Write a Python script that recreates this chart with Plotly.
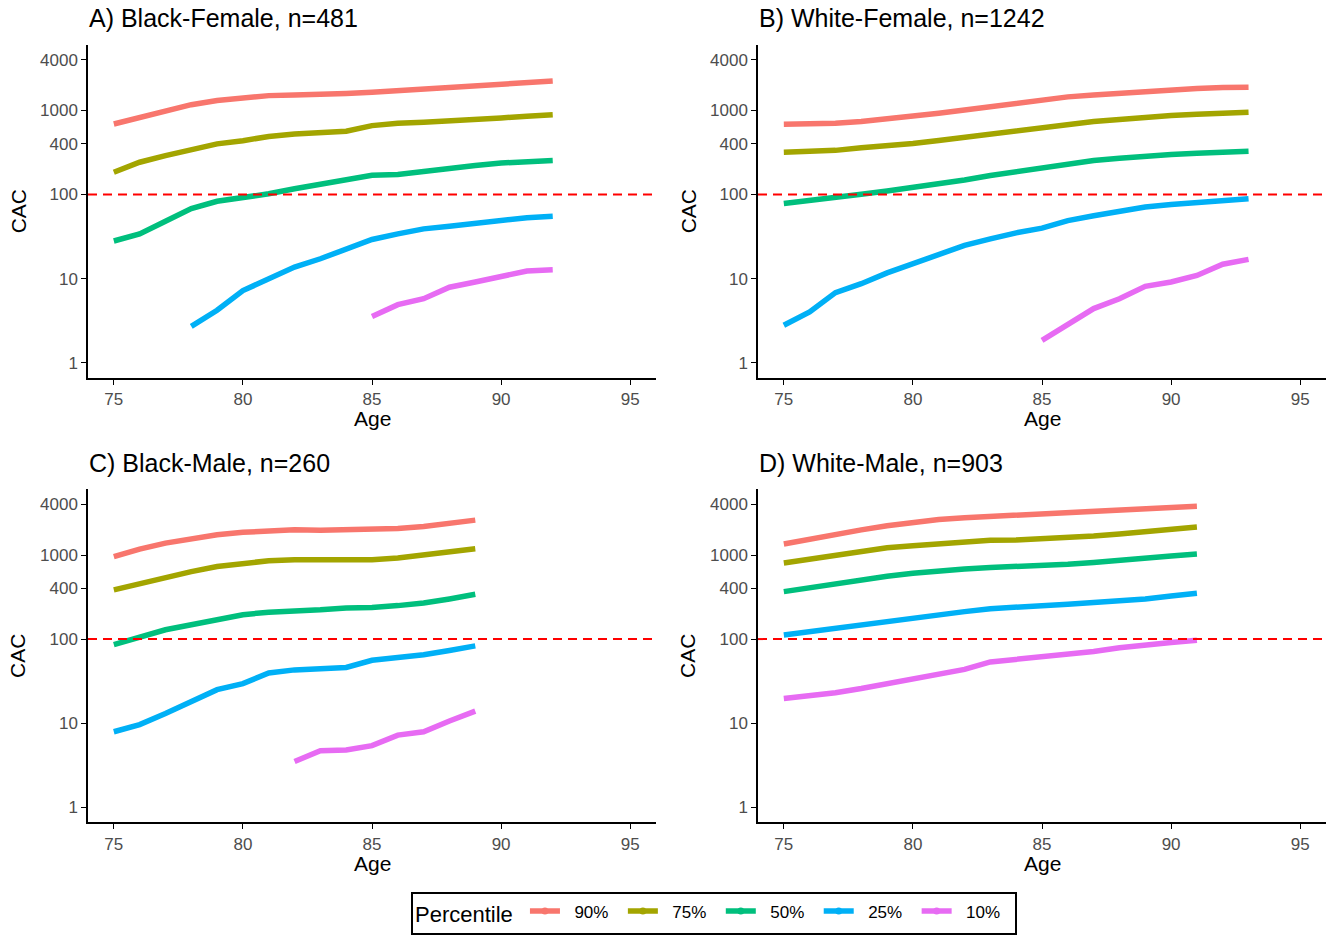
import plotly.graph_objects as go

W, H = 1342, 935

percentiles = ["90%", "75%", "50%", "25%", "10%"]
colors = ["#F8766D", "#A3A500", "#00BF7D", "#00B0F6", "#E76BF3"]
panel_titles = ["A) Black-Female, n=481", "B) White-Female, n=1242",
                "C) Black-Male, n=260", "D) White-Male, n=903"]
x_ticks = [75, 80, 85, 90, 95]
y_ticks = [1, 10, 100, 400, 1000, 4000]
y_tick_labels = ["1", "10", "100", "400", "1000", "4000"]
threshold = 100

# Panel A: Black-Female
ageA = list(range(75, 93))
A90 = [690, 830, 975, 1170, 1310, 1400, 1500, 1530, 1540, 1590, 1640, 1720, 1800, 1880, 1970, 2065, 2160, 2240]
A75 = [184, 242, 290, 343, 400, 437, 490, 525, 540, 565, 660, 705, 725, 745, 780, 815, 855, 890]
A50 = [28, 34, 48, 68, 83, 91, 102, 117, 132, 154, 169, 173, 190, 208, 221, 237, 246, 253]
ageA25 = list(range(78, 93))
A25 = [2.7, 4.2, 7.2, 10.1, 13.7, 17.2, 22.6, 29.2, 34, 39, 42, 45.6, 50, 53, 55]
ageA10 = list(range(85, 93))
A10 = [3.55, 4.9, 5.76, 7.9, 9.1, 10.6, 12.3, 12.7]

# Panel B: White-Female
ageB = list(range(75, 94))
B90 = [685, 685, 705, 740, 790, 850, 925, 1010, 1110, 1220, 1320, 1450, 1530, 1610, 1690, 1760, 1820, 1870, 1890]
B75 = [318, 325, 335, 360, 380, 405, 440, 480, 525, 575, 630, 690, 740, 780, 830, 870, 900, 935, 950]
B50 = [78, 86, 92, 101, 110, 121, 134, 149, 168, 188, 210, 231, 254, 270, 290, 300, 310, 318, 328]
B25 = [2.78, 4.0, 6.8, 8.7, 11.7, 15, 19.7, 24.8, 29.6, 35, 39.8, 49, 56, 63, 71, 76, 81, 85, 89]
ageB10 = list(range(85, 94))
B10 = [1.84, 2.9, 4.4, 5.76, 8.1, 9.1, 10.9, 14.8, 16.9]

# Panel C: Black-Male
ageC = list(range(75, 90))
C90 = [955, 1175, 1385, 1580, 1740, 1860, 1950, 1990, 1975, 1990, 2010, 2070, 2180, 2370, 2600]
C75 = [385, 460, 545, 635, 730, 805, 855, 880, 870, 870, 880, 920, 1000, 1100, 1190]
C50 = [86, 106, 129, 148, 167, 195, 209, 212, 223, 234, 237, 250, 268, 300, 341]
C25 = [7.9, 9.6, 13, 17.9, 25, 29.5, 39.5, 43, 45, 46, 56, 60, 65, 73, 83]
ageC10 = list(range(82, 90))
C10 = [3.5, 4.7, 4.8, 5.4, 7.2, 7.9, 10.6, 13.9]

# Panel D: White-Male
ageD = list(range(75, 92))
D90 = [1350, 1550, 1780, 1990, 2230, 2450, 2640, 2780, 2890, 2960, 3050, 3160, 3310, 3410, 3540, 3670, 3800]
D75 = [805, 895, 1000, 1110, 1220, 1290, 1370, 1430, 1500, 1510, 1550, 1600, 1680, 1780, 1900, 2030, 2150]
D50 = [367, 410, 458, 510, 560, 605, 650, 680, 710, 725, 745, 775, 815, 855, 915, 975, 1030]
D25 = [112, 123, 135, 148, 160, 181, 200, 212, 230, 237, 248, 260, 272, 285, 300, 325, 351]
D10 = [19.6, 21, 23, 25.8, 29.5, 34.6, 39.5, 43.6, 53.5, 57.6, 61, 65, 71, 79, 86, 91, 97]

panels = [
    [(ageA, A90), (ageA, A75), (ageA, A50), (ageA25, A25), (ageA10, A10)],
    [(ageB, B90), (ageB, B75), (ageB, B50), (ageB, B25), (ageB10, B10)],
    [(ageC, C90), (ageC, C75), (ageC, C50), (ageC, C25), (ageC10, C10)],
    [(ageD, D90), (ageD, D75), (ageD, D50), (ageD, D25), (ageD, D10)],
]

# pixel geometry of the plot areas (left, right, top, bottom)
boxes = [(88, 656, 45, 379), (758, 1326, 45, 379),
         (88, 656, 491, 825), (758, 1326, 491, 825)]

FONT = "Liberation Sans, Arial, sans-serif"
NB = "\u00a0"
fig = go.Figure()
layout = dict(
    width=W, height=H, margin=dict(l=0, r=0, t=0, b=0),
    plot_bgcolor="white", paper_bgcolor="white",
    font=dict(family=FONT, color="black"),
    annotations=[], shapes=[],
)

for i, (series, box) in enumerate(zip(panels, boxes)):
    l, r, t, b = box
    xa = "xaxis" if i == 0 else f"xaxis{i+1}"
    ya = "yaxis" if i == 0 else f"yaxis{i+1}"
    xref = "x" if i == 0 else f"x{i+1}"
    yref = "y" if i == 0 else f"y{i+1}"
    layout[xa] = dict(
        domain=[l / W, r / W], anchor=yref, range=[74, 96],
        tickvals=x_ticks, ticks="outside", ticklen=5, tickwidth=1.3, tickcolor="black",
        showline=True, linecolor="black", linewidth=1.5, showgrid=False, zeroline=False,
        tickfont=dict(size=17, color="#4D4D4D"), fixedrange=True,
    )
    layout[ya] = dict(
        domain=[1 - b / H, 1 - t / H], anchor=xref, type="log", range=[-0.18, 3.78],
        tickvals=y_ticks, ticktext=y_tick_labels, ticks="outside", ticklen=5, tickwidth=1.3,
        tickcolor="black", showline=True, linecolor="black", linewidth=1.5,
        showgrid=False, zeroline=False, tickfont=dict(size=17, color="#4D4D4D"), fixedrange=True,
    )
    for j, (ages, vals) in enumerate(series):
        fig.add_trace(go.Scatter(
            x=ages, y=vals, mode="lines", name=percentiles[j],
            line=dict(color=colors[j], width=5.5),
            xaxis=xref, yaxis=yref, legendgroup=percentiles[j], showlegend=False,
        ))
    layout["shapes"].append(dict(
        type="line", xref=f"{xref} domain", yref=yref, x0=0, x1=1, y0=threshold, y1=threshold,
        line=dict(color="#FF0000", width=2, dash="9px,6px"), layer="above",
    ))
    layout["annotations"].append(dict(
        text=panel_titles[i], xref="paper", yref="paper", x=(l - 1) / W, y=1 - (t - 27) / H,
        xanchor="left", yanchor="middle", showarrow=False, font=dict(size=25, color="black"),
    ))
    layout["annotations"].append(dict(
        text="Age", xref="paper", yref="paper", x=(l + r) / 2 / W, y=1 - (b + 41) / H,
        xanchor="center", yanchor="middle", showarrow=False, font=dict(size=21, color="black"),
    ))
    layout["annotations"].append(dict(
        text="CAC", xref="paper", yref="paper", x=(l - 70) / W, y=1 - (t + b) / 2 / H,
        xanchor="center", yanchor="middle", showarrow=False, textangle=-90,
        font=dict(size=21, color="black"),
    ))

# legend entries (line with dot, like the reference key)
for j, p in enumerate(percentiles):
    fig.add_trace(go.Scatter(
        x=[None], y=[None], mode="lines+markers", name=NB * 2 + p + NB * 2,
        line=dict(color=colors[j], width=5.5), marker=dict(color=colors[j], size=7),
        legendgroup=p, showlegend=True,
    ))

layout["legend"] = dict(
    orientation="h", x=714 / W, y=1 - 916 / H, xanchor="center", yanchor="middle",
    bordercolor="black", borderwidth=2, bgcolor="white",
    title=dict(text="Percentile" + NB, side="left", font=dict(size=22, color="black")),
    font=dict(size=17, color="black"), itemwidth=30, tracegroupgap=0,
)

fig.update_layout(**layout)
fig.write_html("out.html", config={"displayModeBar": False},
               post_script="document.body.style.margin='0';document.body.style.overflow='hidden';")
